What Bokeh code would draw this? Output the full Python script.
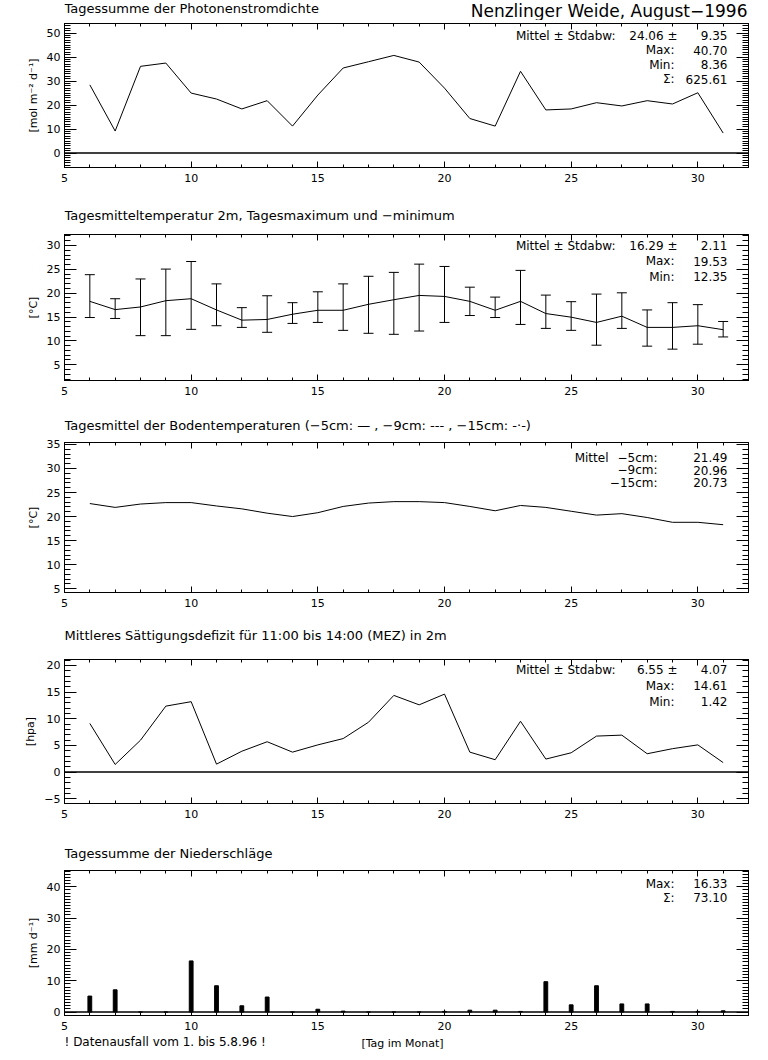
from bokeh.plotting import figure
from bokeh.layouts import column
from bokeh.models import (Range1d, SingleIntervalTicker, LinearAxis, Span, Label,
                          Whisker, TeeHead, ColumnDataSource, CustomJSTickFormatter)
from bokeh.embed import file_html
from bokeh.resources import INLINE

# ---------------- data ----------------
days = list(range(6, 32))

photon = [28.44, 9.19, 36.15, 37.52, 25.0, 22.53, 18.4, 21.84, 11.25, 24.18, 35.46,
          38.07, 40.7, 37.93, 27.07, 14.41, 11.25, 34.08, 17.99, 18.4, 21.01, 19.64,
          21.84, 20.46, 25.14, 8.36]

temp_mean = [18.29, 16.56, 17.11, 18.43, 18.84, 16.49, 14.35, 14.49, 15.59, 16.42, 16.42,
             17.67, 18.63, 19.53, 19.32, 18.29, 16.42, 18.29, 15.73, 14.97, 13.87, 15.18,
             12.83, 12.83, 13.18, 12.35]
temp_max = [23.88, 18.84, 22.98, 25.05, 26.64, 21.95, 16.97, 19.46, 18.01, 20.29, 21.95,
            23.54, 24.36, 26.09, 25.6, 21.26, 19.18, 24.78, 19.6, 18.22, 19.81, 20.08,
            16.49, 18.01, 17.6, 14.07]
temp_min = [14.9, 14.7, 11.1, 11.1, 12.42, 13.18, 12.83, 11.8, 13.66, 13.87, 12.21,
            11.59, 11.38, 12.07, 13.87, 15.32, 14.9, 13.45, 12.62, 12.21, 9.1, 12.62,
            8.9, 8.27, 9.31, 10.83]

soil_5cm = [22.7, 21.9, 22.6, 22.9, 22.9, 22.2, 21.6, 20.7, 20.0, 20.8, 22.1, 22.8,
            23.1, 23.1, 22.9, 22.1, 21.2, 22.3, 21.9, 21.1, 20.3, 20.6, 19.8, 18.8,
            18.8, 18.3]

vpd = [9.11, 1.42, 5.97, 12.36, 13.19, 1.48, 3.9, 5.68, 3.73, 5.09, 6.27, 9.34, 14.37,
       12.6, 14.61, 3.73, 2.31, 9.52, 2.43, 3.61, 6.74, 6.92, 3.43, 4.38, 5.09, 1.77]

precip = [5.1, 7.1, 0, 0, 16.33, 8.4, 2.0, 4.8, 0, 0.9, 0.3, 0, 0, 0, 0.2, 0.6, 0.6,
          0.2, 9.7, 2.3, 8.4, 2.6, 2.6, 0.2, 0.2, 0.4]

stats_photon = ["24.06 ±", "9.35", "40.70", "8.36", "625.61"]
stats_temp = ["16.29 ±", "2.11", "19.53", "12.35"]
stats_soil = ["21.49", "20.96", "20.73"]
stats_vpd = ["6.55 ±", "4.07", "14.61", "1.42"]
stats_precip = ["16.33", "73.10"]

FONT = "DejaVu Sans"
PAGE_W = 768
FL = 64          # frame left (page px)
FRAME_W = 684
FR = PAGE_W - FL - FRAME_W
TICK_FS = "11px"
STAT_FS = "12px"

minus_fmt = CustomJSTickFormatter(code="return tick < 0 ? '\u2212' + (-tick) : '' + tick;")


def make_panel(top, fh, bottom, ylo, yhi, yint, yminor, ylabel):
    p = figure(frame_width=FRAME_W, frame_height=fh,
               min_border_left=FL, min_border_right=FR,
               min_border_top=top, min_border_bottom=bottom,
               x_range=Range1d(5, 32), y_range=Range1d(ylo, yhi),
               output_backend="svg", toolbar_location=None,
               x_axis_location=None, y_axis_location=None)
    p.grid.visible = False
    p.outline_line_color = "black"
    p.outline_line_width = 1
    p.background_fill_color = "white"
    p.border_fill_color = "white"
    xt = SingleIntervalTicker(interval=5, num_minor_ticks=5)
    yt = SingleIntervalTicker(interval=yint, num_minor_ticks=yminor)
    for side in ("below", "above"):
        ax = LinearAxis(ticker=xt, major_tick_in=6, major_tick_out=0,
                        minor_tick_in=3, minor_tick_out=0,
                        axis_line_color="black", major_tick_line_color="black",
                        minor_tick_line_color="black")
        if side == "below":
            ax.major_label_text_font = FONT
            ax.major_label_text_font_size = TICK_FS
            ax.major_label_text_color = "black"
            ax.major_label_standoff = 6
        else:
            ax.major_label_text_font_size = "0px"
            ax.major_label_text_color = None
            ax.major_label_standoff = 0
        p.add_layout(ax, side)
    for side in ("left", "right"):
        ax = LinearAxis(ticker=yt, major_tick_in=12, major_tick_out=0,
                        minor_tick_in=6, minor_tick_out=0,
                        axis_line_color="black", major_tick_line_color="black",
                        minor_tick_line_color="black")
        if side == "left":
            ax.formatter = minus_fmt
            ax.major_label_text_font = FONT
            ax.major_label_text_font_size = TICK_FS
            ax.major_label_text_color = "black"
            ax.major_label_standoff = 4
            ax.axis_label = ylabel
            ax.axis_label_text_font = FONT
            ax.axis_label_text_font_size = "11px"
            ax.axis_label_text_font_style = "normal"
            ax.axis_label_text_color = "black"
            ax.axis_label_standoff = 4
        else:
            ax.major_label_text_font_size = "0px"
            ax.major_label_text_color = None
            ax.major_label_standoff = 0
        p.add_layout(ax, side)
    return p


def strip(h, items):
    # text row: its frame lines up with the panels' frames; x in page pixels
    s = figure(frame_width=FRAME_W, frame_height=h,
               min_border_left=FL, min_border_right=FR, min_border_top=0, min_border_bottom=0,
               x_range=Range1d(FL, FL + FRAME_W), y_range=Range1d(h, 0),
               output_backend="svg", toolbar_location=None,
               x_axis_location=None, y_axis_location=None)
    s.grid.visible = False
    s.outline_line_color = None
    s.background_fill_color = "white"
    s.border_fill_color = "white"
    for text, x, y, size, align in items:
        s.add_layout(Label(x=x, y=y, text=text, text_font=FONT, text_font_size=size,
                           text_align=align, text_baseline="middle", text_color="black"))
    return s


def txt(p, ftop, fh, text, xpage, ypage, size=STAT_FS, align="right"):
    p.add_layout(Label(x=xpage - FL, y=fh - (ypage - ftop),
                       x_units="screen", y_units="screen", text=text,
                       text_font=FONT, text_font_size=size, text_align=align,
                       text_baseline="middle", text_color="black"))


def zero_line(p):
    p.add_layout(Span(location=0, dimension="width", line_color="black", line_width=1.5))


# ---------------- panel 1 (page 0..205) ----------------
s1 = strip(20, [("Tagessumme der Photonenstromdichte", 64, 8, "13px", "left"),
                ("Nenzlinger Weide, August−1996", 747, 10, "17px", "right")])
F1T, F1H = 23, 144
p1 = make_panel(3, F1H, 38, -6, 54, 10, 10, "[mol m⁻² d⁻¹]")
zero_line(p1)
p1.line(days, photon, line_color="black", line_width=1)
txt(p1, F1T, F1H, "Mittel ± Stdabw:", 615, 35)
txt(p1, F1T, F1H, stats_photon[0], 677, 35)
txt(p1, F1T, F1H, stats_photon[1], 727, 35)
txt(p1, F1T, F1H, "Max:", 674, 49.5)
txt(p1, F1T, F1H, stats_photon[2], 727, 49.5)
txt(p1, F1T, F1H, "Min:", 674, 64)
txt(p1, F1T, F1H, stats_photon[3], 727, 64)
txt(p1, F1T, F1H, "Σ:", 674, 78.5)
txt(p1, F1T, F1H, stats_photon[4], 727, 78.5)

# ---------------- panel 2 (page 205..412) ----------------
s2 = strip(21, [("Tagesmitteltemperatur 2m, Tagesmaximum und −minimum", 64, 10, "13px", "left")])
F2T, F2H = 234, 146
p2 = make_panel(8, F2H, 32, 1.7, 32.3, 5, 5, "[°C]")
src2 = ColumnDataSource(dict(x=days, mean=temp_mean, hi=temp_max, lo=temp_min))
p2.line("x", "mean", source=src2, line_color="black", line_width=1)
p2.add_layout(Whisker(source=src2, base="x", upper="hi", lower="lo", dimension="height",
                      line_color="black", line_width=1,
                      upper_head=TeeHead(size=10, line_color="black", line_width=1),
                      lower_head=TeeHead(size=10, line_color="black", line_width=1)))
txt(p2, F2T, F2H, "Mittel ± Stdabw:", 615, 245)
txt(p2, F2T, F2H, stats_temp[0], 677, 245)
txt(p2, F2T, F2H, stats_temp[1], 727, 245)
txt(p2, F2T, F2H, "Max:", 674, 260.5)
txt(p2, F2T, F2H, stats_temp[2], 727, 260.5)
txt(p2, F2T, F2H, "Min:", 674, 276)
txt(p2, F2T, F2H, stats_temp[3], 727, 276)

# ---------------- panel 3 (page 412..622) ----------------
s3 = strip(22, [("Tagesmittel der Bodentemperaturen (−5cm: — , −9cm: --- , −15cm: -·-)",
                 64, 13, "13px", "left")])
F3T, F3H = 442, 150
p3 = make_panel(8, F3H, 30, 4.2, 35.4, 5, 5, "[°C]")
p3.line(days, soil_5cm, line_color="black", line_width=1)
txt(p3, F3T, F3H, "Mittel", 608, 457)
txt(p3, F3T, F3H, "−5cm:", 657, 457)
txt(p3, F3T, F3H, stats_soil[0], 727, 457)
txt(p3, F3T, F3H, "−9cm:", 657, 469.5)
txt(p3, F3T, F3H, stats_soil[1], 727, 469.5)
txt(p3, F3T, F3H, "−15cm:", 657, 482)
txt(p3, F3T, F3H, stats_soil[2], 727, 482)

# ---------------- panel 4 (page 622..840) ----------------
s4 = strip(24, [("Mittleres Sättigungsdefizit für 11:00 bis 14:00 (MEZ) in 2m",
                 64, 13, "13px", "left")])
F4T, F4H = 659, 144
p4 = make_panel(13, F4H, 37, -5.9, 21.1, 5, 5, "[hpa]")
zero_line(p4)
p4.line(days, vpd, line_color="black", line_width=1)
txt(p4, F4T, F4H, "Mittel ± Stdabw:", 615, 669)
txt(p4, F4T, F4H, stats_vpd[0], 677, 669)
txt(p4, F4T, F4H, stats_vpd[1], 727, 669)
txt(p4, F4T, F4H, "Max:", 674, 685)
txt(p4, F4T, F4H, stats_vpd[2], 727, 685)
txt(p4, F4T, F4H, "Min:", 674, 701)
txt(p4, F4T, F4H, stats_vpd[3], 727, 701)

# ---------------- panel 5 (page 840..1034) ----------------
s5 = strip(22, [("Tagessumme der Niederschläge", 64, 13, "13px", "left")])
F5T, F5H = 870, 145
p5 = make_panel(8, F5H, 19, -1.1, 45.2, 10, 10, "[mm d⁻¹]")
zero_line(p5)
p5.vbar(x=days, top=precip, bottom=0, width=0.15, fill_color="black", line_color="black")
txt(p5, F5T, F5H, "Max:", 674, 883)
txt(p5, F5T, F5H, stats_precip[0], 727, 883)
txt(p5, F5T, F5H, "Σ:", 674, 897)
txt(p5, F5T, F5H, stats_precip[1], 727, 897)

s6 = strip(24, [("! Datenausfall vom 1. bis 5.8.96 !", 64, 7, "12px", "left"),
                ("[Tag im Monat]", 402, 9, "11px", "center")])

layout = column(s1, p1, s2, p2, s3, p3, s4, p4, s5, p5, s6, spacing=0)
open("out.html", "w").write(file_html(layout, INLINE, title="Nenzlinger Weide, August-1996"))
